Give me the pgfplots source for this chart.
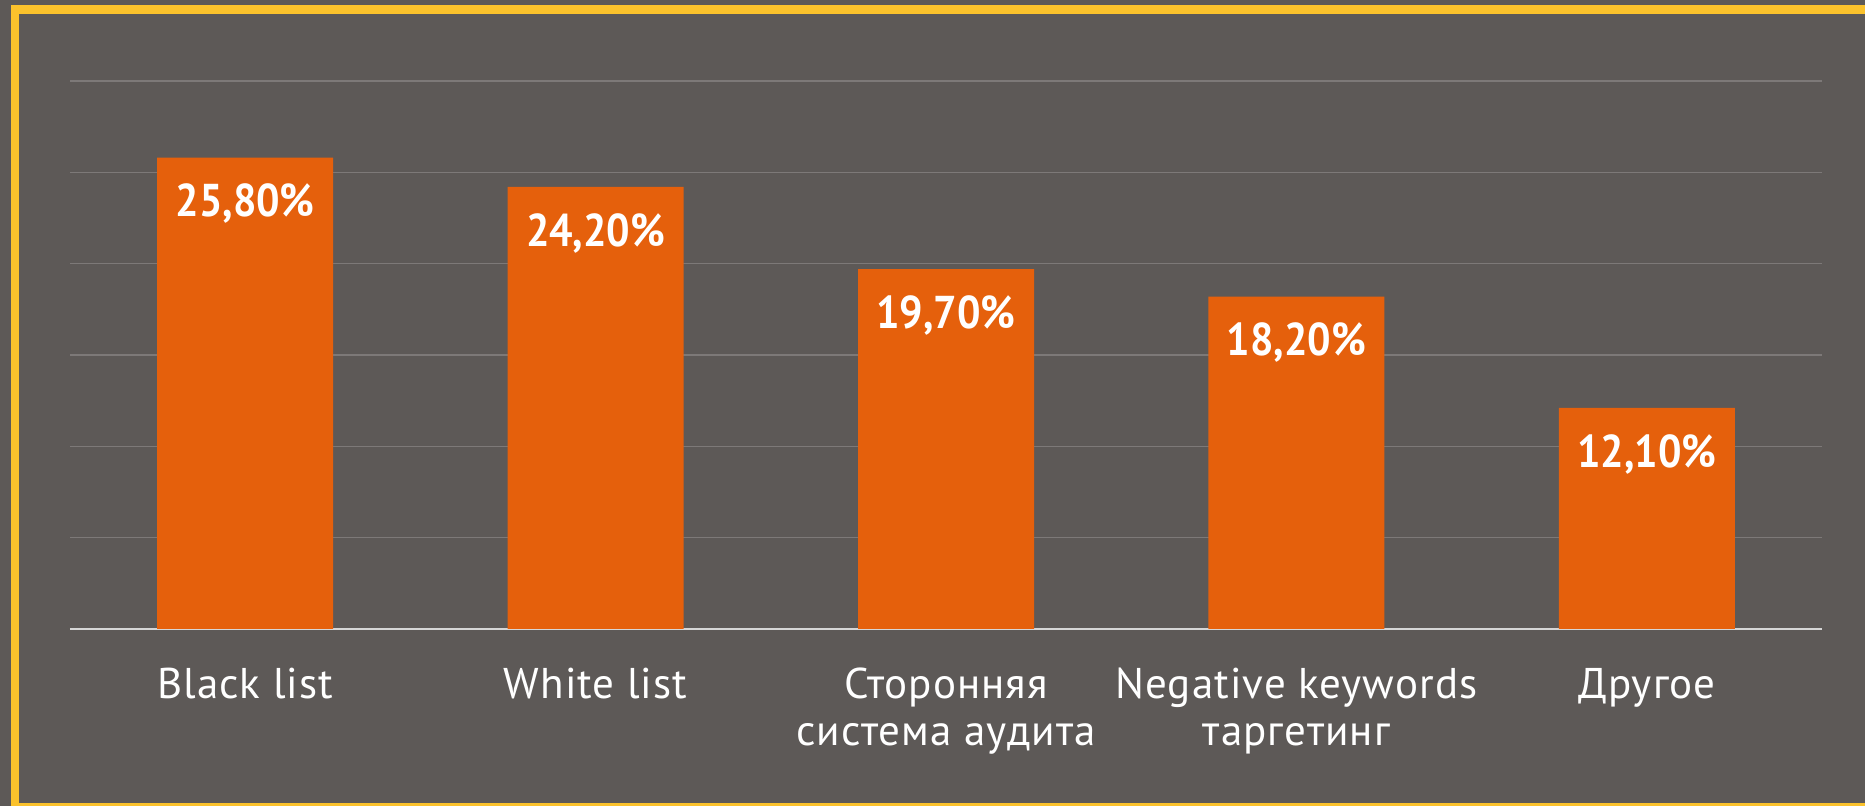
\documentclass[border=0pt]{standalone}
\usepackage{fontspec}
\setmainfont{PT Sans}
\newfontfamily\valfont[FakeStretch=0.9]{PT Sans Bold}
\usepackage{pgfplots}
\pgfplotsset{compat=1.18}
\definecolor{bg}{HTML}{5D5957}
\definecolor{barc}{HTML}{E5600C}
\definecolor{framec}{HTML}{FBC22C}
\definecolor{gridc}{HTML}{7D7978}
\definecolor{basec}{HTML}{D6D6D6}
\begin{document}
\begin{tikzpicture}[x=1pt,y=1pt]
\useasboundingbox (0,0) rectangle (932.5,403);
\fill[bg] (0,0) rectangle (932.5,403);
\fill[framec] (5.5,0) rectangle (932.5,400.5);
\fill[bg] (9.5,1.5) rectangle (932.5,396);
\begin{axis}[
  at={(35pt,88.5pt)}, anchor=south west,
  scale only axis, width=876pt, height=274pt,
  xmin=-0.5, xmax=4.5, ymin=0, ymax=30,
  ybar, bar width=88pt,
  axis x line=bottom, axis y line*=left,
  x axis line style={basec, line width=0.8pt, -},
  y axis line style={draw=none},
  ymajorgrids, grid style={gridc, line width=0.6pt},
  ytick={5,10,...,30}, yticklabels={},
  major tick length=0pt,
  xtick={0,1,2,3,4},
  xticklabels={Black list, White list, {Сторонняя\\система аудита}, {Negative keywords\\таргетинг}, Другое},
  xticklabel style={align=center, text=white, font=\addfontfeatures{LetterSpace=2.5}\fontsize{21.5}{23.5}\selectfont, anchor=north, yshift=-16pt},
  nodes near coords, point meta=explicit symbolic,
  every node near coord/.append style={anchor=north, text=white, font=\valfont\fontsize{23}{23}\selectfont, inner sep=0pt, yshift=-13pt},
]
\addplot[fill=barc, draw=none] table[meta=label] {
x y label
0 25.8 25,80\%
1 24.2 24,20\%
2 19.7 19,70\%
3 18.2 18,20\%
4 12.1 12,10\%
};
\end{axis}
\end{tikzpicture}
\end{document}
